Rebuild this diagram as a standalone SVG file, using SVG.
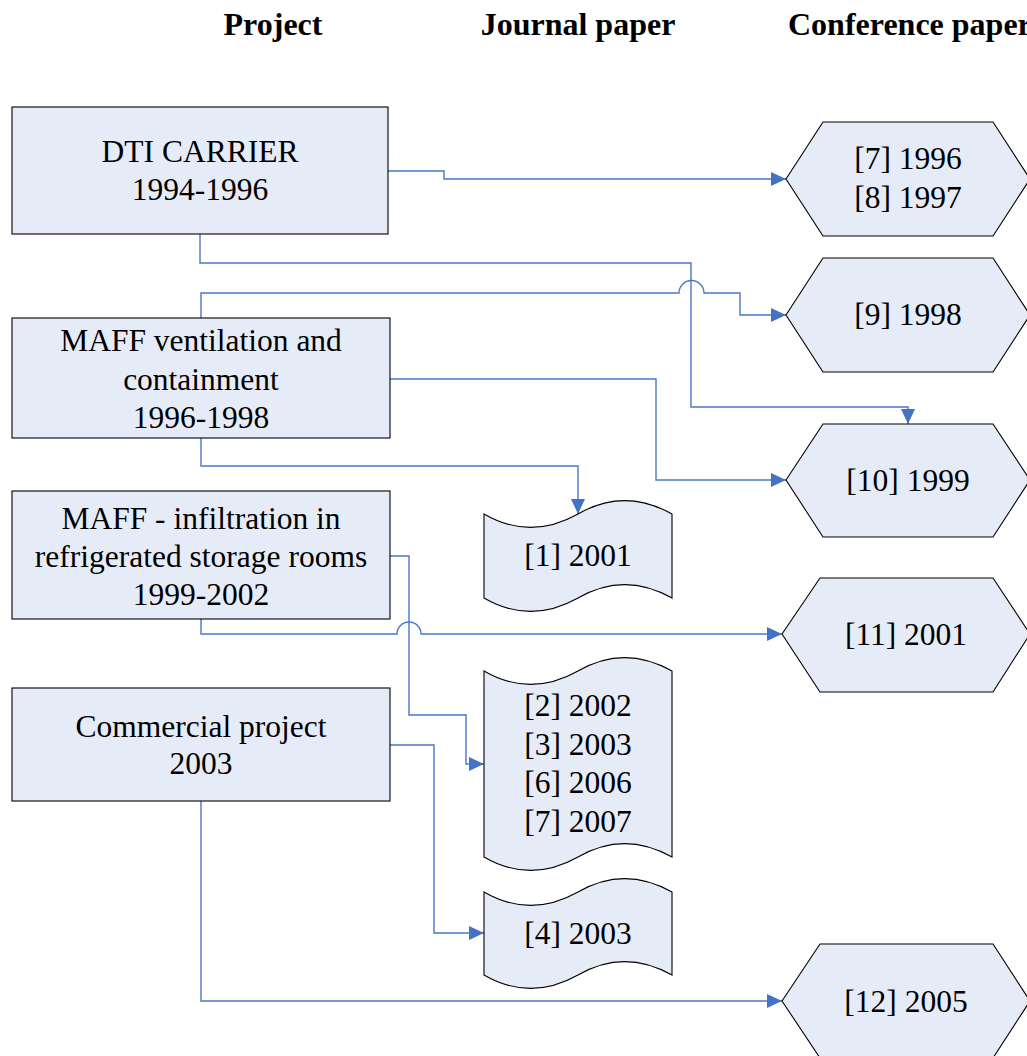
<svg xmlns="http://www.w3.org/2000/svg" width="1027" height="1056" viewBox="0 0 1027 1056">
<style>
.box{fill:#e6ecf7;stroke:#000;stroke-width:1.1}
.t{font-family:"Liberation Serif","Times New Roman",serif;font-size:31.5px;fill:#000;text-anchor:middle}
.h{font-family:"Liberation Serif","Times New Roman",serif;font-size:32px;font-weight:bold;fill:#000}
.c{fill:none;stroke:#4a78c4;stroke-width:1.4}
</style>
<defs>
<marker id="ah" markerUnits="userSpaceOnUse" markerWidth="16" markerHeight="14" refX="15" refY="7" orient="auto">
<path d="M0,0 L15,7 L0,14 Z" fill="#4472c4"/>
</marker>
</defs>
<rect width="1027" height="1056" fill="#fff"/>
<g id="headers">
<text class="h" x="273" y="35" text-anchor="middle">Project</text>
<text class="h" x="578" y="35" text-anchor="middle">Journal paper</text>
<text class="h" x="788" y="35">Conference paper</text>
</g>
<g id="connectors">
<path class="c" d="M388,171 H444 V179 H786" marker-end="url(#ah)"/>
<path class="c" d="M200,234 V263 H691 V407 H908 V424" marker-end="url(#ah)"/>
<path class="c" d="M201,318 V293 H679 A12.5,12.5 0 0 1 704,293 H740 V315 H786" marker-end="url(#ah)"/>
<path class="c" d="M390,379 H656 V480 H786" marker-end="url(#ah)"/>
<path class="c" d="M201,438 V466 H578 V514" marker-end="url(#ah)"/>
<path class="c" d="M390,556 H409 V715 H466 V764 H484" marker-end="url(#ah)"/>
<path class="c" d="M201,619 V634 H397 A12,12 0 0 1 421,634 H782" marker-end="url(#ah)"/>
<path class="c" d="M390,745 H434 V933 H484" marker-end="url(#ah)"/>
<path class="c" d="M201,801 V1001 H782" marker-end="url(#ah)"/>
</g>
<g id="n-dti">
<rect class="box" x="12" y="107" width="376" height="127"/>
<text class="t" x="200" y="162">DTI CARRIER</text>
<text class="t" x="200" y="200">1994-1996</text>
</g>
<g id="n-maff-vent">
<rect class="box" x="12" y="318" width="378" height="120"/>
<text class="t" x="201" y="351">MAFF ventilation and</text>
<text class="t" x="201" y="390">containment</text>
<text class="t" x="201" y="428">1996-1998</text>
</g>
<g id="n-maff-inf">
<rect class="box" x="12" y="491" width="378" height="128"/>
<text class="t" x="201" y="529">MAFF - infiltration in</text>
<text class="t" x="201" y="567">refrigerated storage rooms</text>
<text class="t" x="201" y="605">1999-2002</text>
</g>
<g id="n-commercial">
<rect class="box" x="12" y="688" width="378" height="113"/>
<text class="t" x="201" y="737">Commercial project</text>
<text class="t" x="201" y="774">2003</text>
</g>
<g id="c-7-8">
<path class="box" d="M786,179 L823,122 H993 L1030,179 L993,236 H823 Z"/>
<text class="t" x="908" y="169">[7] 1996</text>
<text class="t" x="908" y="208">[8] 1997</text>
</g>
<g id="c-9">
<path class="box" d="M786,315 L823,258 H993 L1030,315 L993,372 H823 Z"/>
<text class="t" x="908" y="325">[9] 1998</text>
</g>
<g id="c-10">
<path class="box" d="M786,480 L823,424 H993 L1030,480 L993,537 H823 Z"/>
<text class="t" x="908" y="491">[10] 1999</text>
</g>
<g id="c-11">
<path class="box" d="M782,634 L820,578 H993 L1030,634 L993,692 H820 Z"/>
<text class="t" x="906" y="645">[11] 2001</text>
</g>
<g id="c-12">
<path class="box" d="M782,1001 L820,944 H993 L1030,1001 L993,1058 H820 Z"/>
<text class="t" x="906" y="1012">[12] 2005</text>
</g>
<g id="j-1">
<path class="box" d="M484,514 C515,532 546,532 578,514 C609,496 640,496 672,514 V598 C640,580 609,580 578,598 C546,616 515,616 484,598 Z"/>
<text class="t" x="578" y="566">[1] 2001</text>
</g>
<g id="j-2">
<path class="box" d="M484,671 C515,689 546,689 578,671 C609,653 640,653 672,671 V857 C640,839 609,839 578,857 C546,875 515,875 484,857 Z"/>
<text class="t" x="578" y="716">[2] 2002</text>
<text class="t" x="578" y="755">[3] 2003</text>
<text class="t" x="578" y="793">[6] 2006</text>
<text class="t" x="578" y="832">[7] 2007</text>
</g>
<g id="j-4">
<path class="box" d="M484,892 C515,910 546,910 578,892 C609,874 640,874 672,892 V975 C640,957 609,957 578,975 C546,993 515,993 484,975 Z"/>
<text class="t" x="578" y="944">[4] 2003</text>
</g>
</svg>
